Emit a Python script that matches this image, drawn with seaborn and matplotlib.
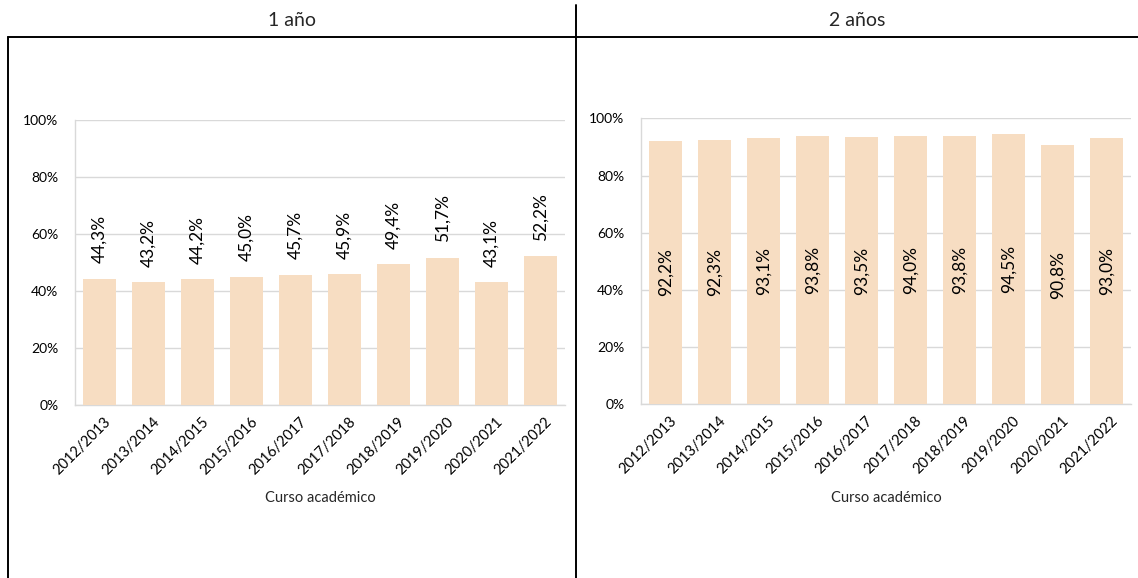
import matplotlib
matplotlib.use("Agg")
import matplotlib.pyplot as plt
from matplotlib.lines import Line2D
from matplotlib.ticker import FuncFormatter
from matplotlib.transforms import ScaledTranslation
import seaborn as sns
import pandas as pd

cursos = ["2012/2013", "2013/2014", "2014/2015", "2015/2016", "2016/2017",
          "2017/2018", "2018/2019", "2019/2020", "2020/2021", "2021/2022"]
tasa_1_ano = [44.3, 43.2, 44.2, 45.0, 45.7, 45.9, 49.4, 51.7, 43.1, 52.2]
tasa_2_anos = [92.2, 92.3, 93.1, 93.8, 93.5, 94.0, 93.8, 94.5, 90.8, 93.0]
titulos = ["1 año", "2 años"]
eje_x = "Curso académico"

sns.set_theme(style="white")
plt.rcParams["font.family"] = ["Lato", "DejaVu Sans"]

BAR = "#F7DDC2"
GRID = "#D9D9D9"
W, H = 1138, 578
fig = plt.figure(figsize=(W / 100, H / 100), dpi=100)

axes_pos = [
    [75 / W, 1 - 405 / H, 490 / W, 285 / H],
    [641 / W, 1 - 404.4 / H, 490 / W, 286 / H],
]

for i, (vals, pos) in enumerate(zip([tasa_1_ano, tasa_2_anos], axes_pos)):
    ax = fig.add_axes(pos)
    df = pd.DataFrame({"curso": cursos, "valor": vals})
    sns.barplot(data=df, x="curso", y="valor", color=BAR, width=0.67,
                saturation=1, ax=ax, zorder=3, edgecolor="none")
    ax.set_ylim(0, 100)
    ax.set_xlim(-0.5, len(cursos) - 0.5)
    ax.set_yticks([0, 20, 40, 60, 80, 100])
    ax.yaxis.set_major_formatter(FuncFormatter(lambda v, p: f"{int(v)}%"))
    ax.grid(axis="y", color=GRID, linewidth=1, zorder=0)
    ax.grid(axis="x", visible=False)
    for s in ["top", "right"]:
        ax.spines[s].set_visible(False)
    for s in ["left", "bottom"]:
        ax.spines[s].set_color(GRID)
        ax.spines[s].set_linewidth(1)
    ax.tick_params(axis="both", length=0, colors="#000000")
    ax.tick_params(axis="y", pad=12, labelsize=10)
    ax.tick_params(axis="x", pad=7, labelsize=10.5)
    shift = ScaledTranslation(4 / 100, 0, fig.dpi_scale_trans)
    for lab in ax.get_xticklabels():
        lab.set_rotation(45)
        lab.set_ha("right")
        lab.set_rotation_mode("anchor")
        lab.set_transform(lab.get_transform() + shift)
    ax.set_xlabel(eje_x, fontsize=10.5, labelpad=10)
    ax.set_ylabel("")
    for j, v in enumerate(vals):
        txt = f"{v:.1f}%".replace(".", ",")
        if i == 0:
            ax.annotate(txt, (j, v), xytext=(0, 11), textcoords="offset points",
                        rotation=90, ha="center", va="bottom", fontsize=12.5,
                        color="#000000", zorder=4)
        else:
            ax.text(j, v / 2, txt, rotation=90, ha="center", va="center",
                    fontsize=12.5, color="#000000", zorder=4)

# Titles
fig.text(292 / W, 1 - 21 / H, titulos[0], ha="center", va="center", fontsize=14)
fig.text(857 / W, 1 - 21 / H, titulos[1], ha="center", va="center", fontsize=14)

# Frame lines
lw = 1.4
fig.add_artist(Line2D([8 / W, 1.0], [1 - 37 / H, 1 - 37 / H], color="black",
                      linewidth=lw, transform=fig.transFigure))
fig.add_artist(Line2D([8 / W, 8 / W], [1 - 37 / H, 0], color="black",
                      linewidth=lw, transform=fig.transFigure))
fig.add_artist(Line2D([576 / W, 576 / W], [1 - 5 / H, 0], color="black",
                      linewidth=lw, transform=fig.transFigure))

fig.savefig("out.png", dpi=100, facecolor="white")
